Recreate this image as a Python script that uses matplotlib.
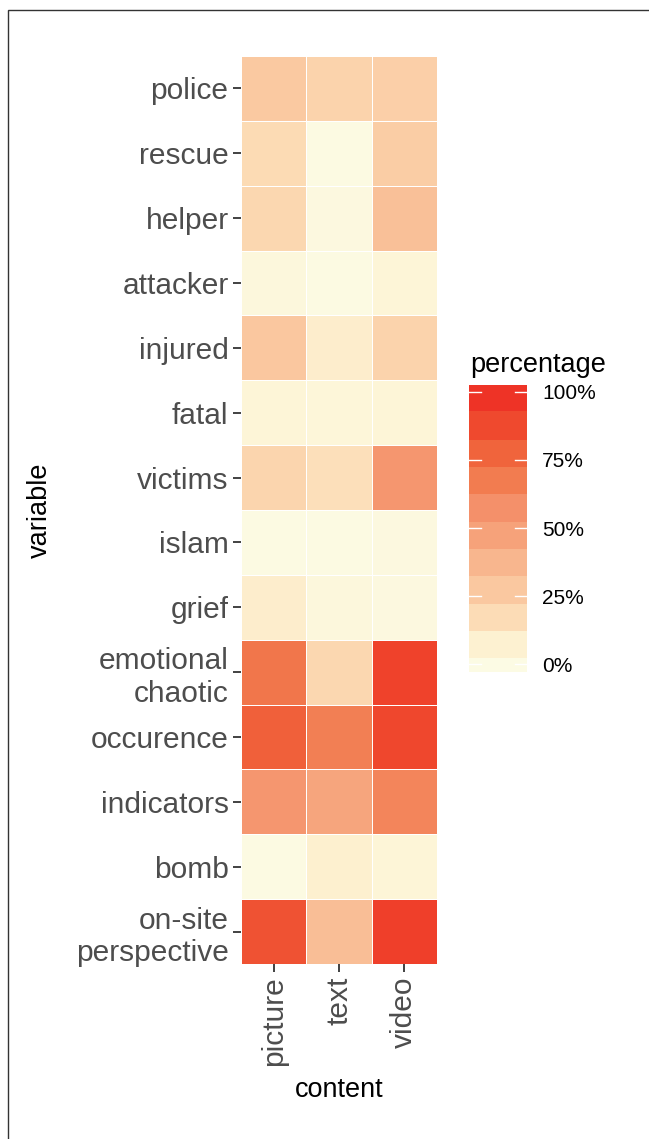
import numpy as np
import matplotlib
matplotlib.use('Agg')
import matplotlib.pyplot as plt
from matplotlib.colors import LinearSegmentedColormap, Normalize
from matplotlib.patches import Rectangle

plt.rcParams['font.family'] = ['Liberation Sans', 'DejaVu Sans']

variables = ['police', 'rescue', 'helper', 'attacker', 'injured', 'fatal', 'victims',
             'islam', 'grief', 'emotional\nchaotic', 'occurence', 'indicators', 'bomb',
             'on-site\nperspective']
contents = ['picture', 'text', 'video']

# percentage per variable, one list per content type
picture = [27, 18, 20, 3, 28, 5, 21, 1, 9, 70, 79, 54, 1, 84]
text = [22, 1, 2, 1, 9, 4, 16, 1, 3, 20, 66, 46, 8, 33]
video = [24, 25, 32, 5, 22, 5, 54, 2, 2, 91, 89, 63, 5, 92]

legend_ticks = [0, 25, 50, 75, 100]
legend_labels = ['0%', '25%', '50%', '75%', '100%']

# colour ramp
ramp_pos = [0, 7.3, 17.3, 27.4, 37.4, 47.3, 57.4, 67.5, 77.5, 87.6, 100]
ramp_col = ['#FCFBE4', '#FDF1D0', '#FCDCB6', '#FAC8A0', '#F8B68E', '#F6A27A',
            '#F4906A', '#F27C50', '#F0643C', '#EF4A2E', '#EE2D24']
cmap = LinearSegmentedColormap.from_list('pct', list(zip([p / 100 for p in ramp_pos], ramp_col)))
norm = Normalize(0, 100)

W, H = 649, 1139
fig = plt.figure(figsize=(W / 100, H / 100), dpi=100)

def box(x0, y0, x1, y1):
    return [x0 / W, 1 - y1 / H, (x1 - x0) / W, (y1 - y0) / H]

# outer frame (only top/left visible)
fig.add_artist(Rectangle((8 / W, -0.1), 1.2, 1 - 10 / H + 0.1, transform=fig.transFigure,
                         fill=False, edgecolor='#333333', linewidth=1))

ax = fig.add_axes(box(241, 56, 437, 964))
data = np.array([picture, text, video]).T
ax.pcolormesh(np.arange(len(contents) + 1), np.arange(len(variables) + 1), data,
              cmap=cmap, norm=norm, edgecolors='white', linewidth=0.5)
ax.set_xlim(0, len(contents))
ax.set_ylim(len(variables), 0)
for s in ax.spines.values():
    s.set_visible(False)
ax.set_yticks(np.arange(len(variables)) + 0.5)
ax.set_yticklabels(variables, fontsize=21.5, color='#4D4D4D', linespacing=1.2)
ax.set_xticks(np.arange(len(contents)) + 0.5)
ax.set_xticklabels(contents, fontsize=21.5, color='#4D4D4D', rotation=90)
ax.tick_params(length=6, width=1.3, color='#333333', pad=3)
ax.set_xlabel('content', fontsize=19.5, labelpad=8)
ax.set_ylabel('variable', fontsize=19.5, labelpad=16)

# legend: banded colour bar
lax = fig.add_axes(box(469, 385, 527, 672))
lo, hi = -2.8, 102.5
edges = [lo, 2.3, 12.3, 22.3, 32.4, 42.3, 52.3, 62.5, 72.5, 82.4, 92.8, hi]
for a, b in zip(edges[:-1], edges[1:]):
    lax.axhspan(a, b, color=cmap(norm(min(max((a + b) / 2, 0), 100))), lw=0)
for t in legend_ticks:
    lax.plot([0, 0.2], [t, t], color='white', lw=1)
    lax.plot([0.8, 1], [t, t], color='white', lw=1)
lax.set_xlim(0, 1)
lax.set_ylim(lo, hi)
lax.set_xticks([])
lax.yaxis.tick_right()
lax.set_yticks(legend_ticks)
lax.set_yticklabels(legend_labels, fontsize=15)
lax.tick_params(axis='y', length=0, pad=11)
for s in lax.spines.values():
    s.set_visible(False)
fig.text(470 / W, 1 - 372 / H, 'percentage', fontsize=19.5, ha='left', va='baseline')

fig.savefig('out.png', dpi=100)
